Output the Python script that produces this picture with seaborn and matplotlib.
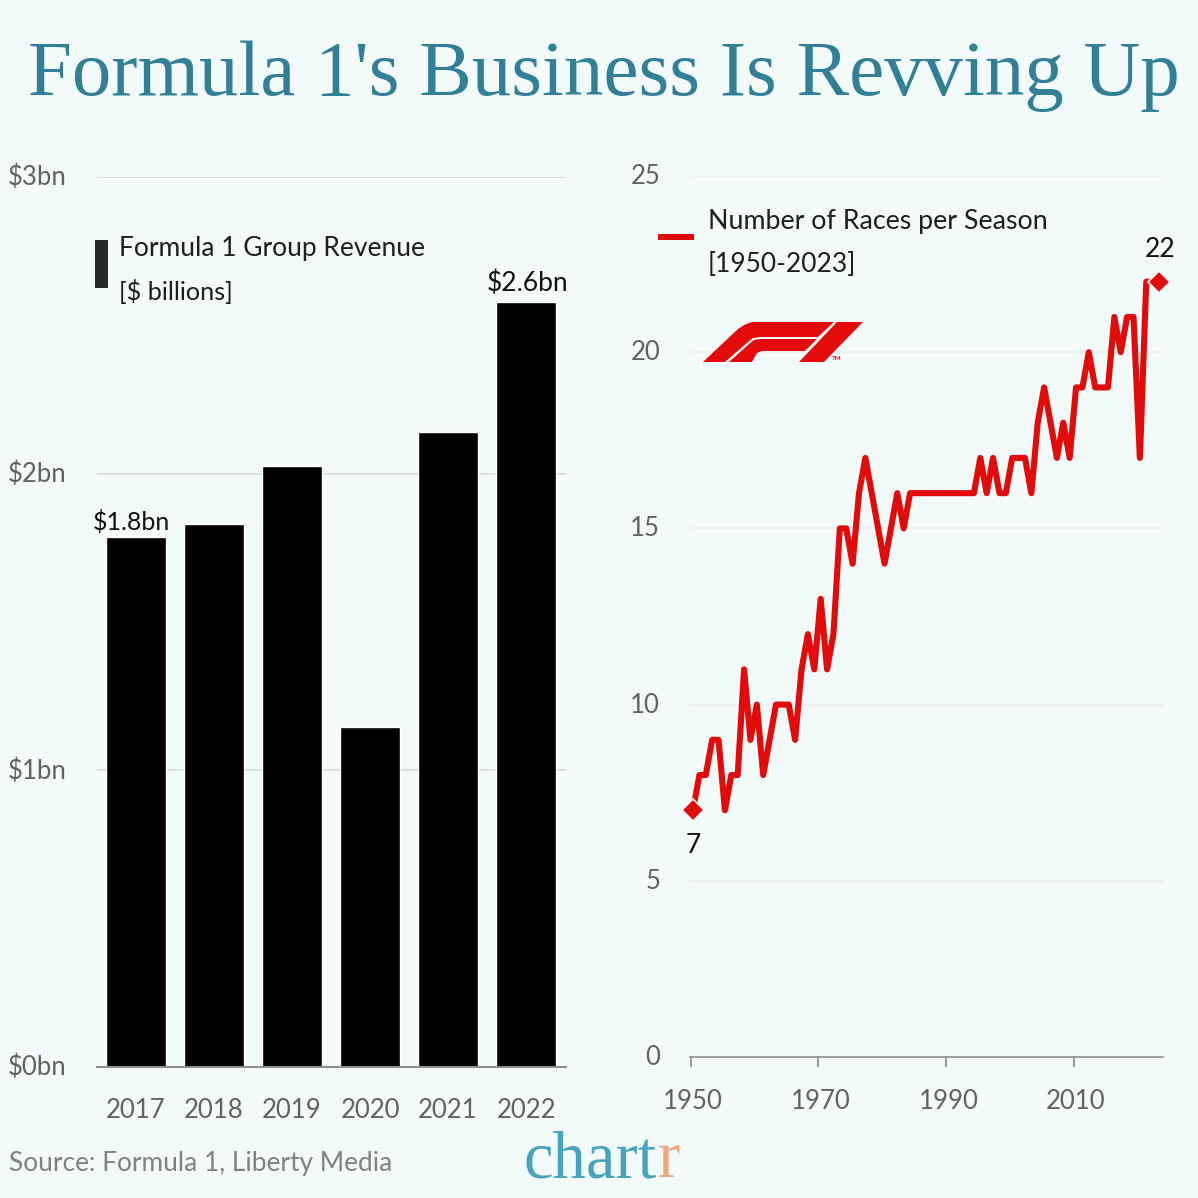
"""Formula 1 revenue and races per season, two panel chart."""

import matplotlib.pyplot as plt
import pandas as pd
import seaborn as sns
from matplotlib.patches import Polygon
from matplotlib.transforms import ScaledTranslation

SIZE = 1198
BG = "#f3fbfa"
RED = "#e30a0a"
GRID = "#d9dedd"
TICK = "#5f6363"

rev_years = ["2017", "2018", "2019", "2020", "2021", "2022"]
revenue = [1.787, 1.83, 2.025, 1.147, 2.14, 2.577]
rev_ticks = [0, 1, 2, 3]
rev_tick_labels = ["$0bn", "$1bn", "$2bn", "$3bn"]

season_years = list(range(1950, 2024))
races = [
    7, 8, 8, 9, 9, 7, 8, 8, 11, 9,
    10, 8, 9, 10, 10, 10, 9, 11, 12, 11,
    13, 11, 12, 15, 15, 14, 16, 17, 16, 15,
    14, 15, 16, 15, 16, 16, 16, 16, 16, 16,
    16, 16, 16, 16, 16, 17, 16, 17, 16, 16,
    17, 17, 17, 16, 18, 19, 18, 17, 18, 17,
    19, 19, 20, 19, 19, 19, 21, 20, 21, 21,
    17, 22, 22, 22,
]
race_xticks = [1950, 1970, 1990, 2010]
race_yticks = [0, 5, 10, 15, 20, 25]

sns.set_theme(style="white", rc={"figure.facecolor": BG, "axes.facecolor": "none"})
plt.rcParams["font.family"] = ["Lato", "DejaVu Sans"]


def px_axes(fig, left, top, right, bottom):
    return fig.add_axes([left / SIZE, 1 - bottom / SIZE, (right - left) / SIZE, (bottom - top) / SIZE])


def label(fig, x, y, text, size=19, color="#1c1f1f", ha="left", **kw):
    fig.text(x / SIZE, 1 - y / SIZE, text, fontsize=size, color=color, ha=ha, va="center", **kw)


def shift(artist, fig, dx_px, dy_px):
    offset = ScaledTranslation(dx_px / 100, dy_px / 100, fig.dpi_scale_trans)
    artist.set_transform(artist.get_transform() + offset)


fig = plt.figure(figsize=(SIZE / 100, SIZE / 100), dpi=100, facecolor=BG)

# revenue bars
ax = px_axes(fig, 97, 177, 566, 1067)
rev_df = pd.DataFrame({"year": rev_years, "revenue": revenue})
sns.barplot(data=rev_df, x="year", y="revenue", color="black", saturation=1, width=0.775, ax=ax, zorder=3)
ax.set_xlim(-0.5, 5.512)
ax.set_ylim(0, 3)
ax.set_xlabel("")
ax.set_ylabel("")
ax.set_yticks(rev_ticks)
ax.set_yticklabels(rev_tick_labels, fontsize=18.5, color=TICK)
ax.tick_params(axis="y", length=0, pad=22)
ax.tick_params(axis="x", length=0, pad=22.5, labelsize=18.5, labelcolor=TICK)
ax.grid(axis="y", color=GRID, lw=1.3, zorder=0)
sns.despine(ax=ax, left=True, top=True, right=True)
ax.spines["bottom"].set_color("#8b9090")
ax.spines["bottom"].set_linewidth(1.5)
ax.spines["bottom"].set_zorder(4)
ax.annotate("$1.8bn", (0, revenue[0]), xytext=(-3.2, 2), textcoords="offset points",
            ha="center", va="bottom", fontsize=18, color="#111")
ax.annotate("$2.6bn", (5, revenue[5]), xytext=(1, 5), textcoords="offset points",
            ha="center", va="bottom", fontsize=19, color="#111")
for lab in ax.get_yticklabels():
    shift(lab, fig, 0, 2)

# races per season line
ax2 = px_axes(fig, 690, 176, 1163, 1057)
race_df = pd.DataFrame({"year": season_years, "races": races})
sns.lineplot(data=race_df, x="year", y="races", color=RED, lw=4.4, ax=ax2, zorder=3,
             solid_joinstyle="round", solid_capstyle="butt")
ends = race_df.iloc[[0, -1]]
ax2.plot(ends["year"], ends["races"], ls="none", marker="D", ms=11, mfc=RED, mec=BG, mew=1.2,
         zorder=4, clip_on=False)
ax2.set_xlim(1949.53, 2023.62)
ax2.set_ylim(0, 25)
ax2.set_xlabel("")
ax2.set_ylabel("")
ax2.set_xticks(race_xticks)
ax2.set_yticks(race_yticks)
ax2.tick_params(axis="y", length=0, pad=21.5, labelsize=18.5, labelcolor=TICK)
ax2.tick_params(axis="x", bottom=True, length=7.2, width=1.2, color="#8b9090", pad=15.5, labelsize=18.5,
                labelcolor=TICK)
ax2.grid(axis="y", color="#e9efee", lw=1.1, zorder=0)
sns.despine(ax=ax2, left=True, top=True, right=True)
ax2.spines["bottom"].set_color("#8b9090")
ax2.spines["bottom"].set_linewidth(1.2)
ax2.annotate("7", (1950, 7), xytext=(0, -16), textcoords="offset points",
             ha="center", va="top", fontsize=19, color="#111")
ax2.annotate("22", (2023, 22), xytext=(1, 14), textcoords="offset points",
             ha="center", va="bottom", fontsize=19, color="#111")
for lab in ax2.get_yticklabels():
    shift(lab, fig, 0, 2)
# the tick marks sit a little left of their labels in the original
for tick in ax2.xaxis.get_major_ticks():
    shift(tick.tick1line, fig, -2.5, 0)

# title and notes
fig.text(604 / SIZE, 1 - 95 / SIZE, "Formula 1's Business Is Revving Up", fontsize=56.8, color="#327f98",
         ha="center", va="baseline", family="Liberation Serif")
label(fig, 119, 248, "Formula 1 Group Revenue", size=19)
label(fig, 119, 291, "[$ billions]", size=18.2)
label(fig, 708, 221, "Number of Races per Season", size=19.3)
label(fig, 708, 265, "[1950-2023]", size=19)
label(fig, 9, 1164, "Source: Formula 1, Liberty Media", size=18.9, color="#7d8383")
fig.text(524 / SIZE, 1 - 1177 / SIZE, "chart", fontsize=48, color="#4aa3bd", family="Liberation Serif", va="baseline")
fig.text(658 / SIZE, 1 - 1177 / SIZE, "r", fontsize=48, color="#f2a77e", family="Liberation Serif", va="baseline")


# legend keys and logo, in pixel coordinates
def shape(points, color):
    fig.add_artist(Polygon([(x / SIZE, 1 - y / SIZE) for x, y in points], closed=True,
                           transform=fig.transFigure, fc=color, ec="none"))


shape([(95, 240), (108, 240), (108, 288), (95, 288)], "#262a2a")
shape([(658, 234), (694, 234), (694, 240), (658, 240)], RED)
shape([(703, 362), (738, 329), (744, 325), (752, 322), (834, 322), (818, 337), (760, 337), (753, 338),
       (748, 342), (725, 362)], RED)
shape([(729, 362), (749, 344), (754, 340), (760, 339), (817, 339), (805, 351), (762, 351), (757, 353),
       (752, 362)], RED)
shape([(799, 362), (837, 322), (863, 322), (824, 362)], RED)
label(fig, 832, 359, "TM", size=4.5, color=RED, weight="bold")

fig.savefig("out.png", dpi=100, facecolor=BG)
